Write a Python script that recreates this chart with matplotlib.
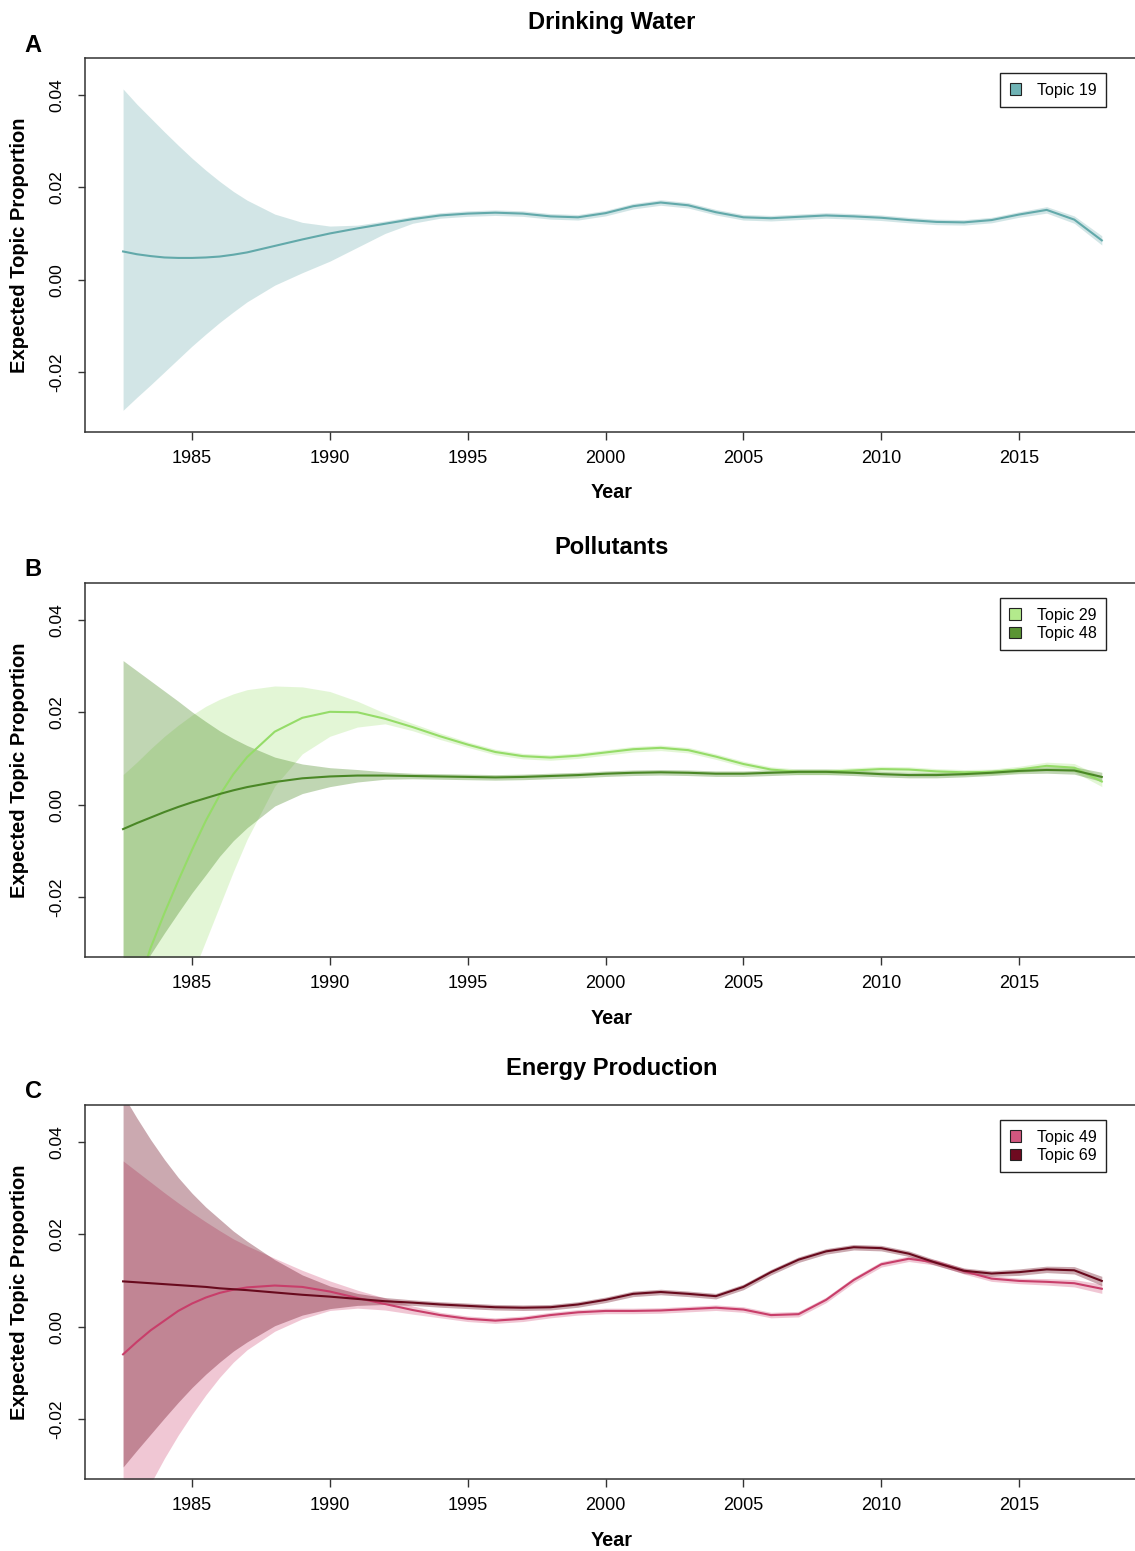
import matplotlib
matplotlib.use("Agg")
import matplotlib.pyplot as plt
from matplotlib.patches import Patch

plt.rcParams['font.family'] = ['Liberation Sans', 'DejaVu Sans']
plt.rcParams['axes.unicode_minus'] = False

# ---- data ----
YEARS = [1982.5, 1983, 1983.5, 1984, 1984.5, 1985, 1985.5, 1986, 1986.5, 1987,
         1988, 1989, 1990, 1991, 1992, 1993, 1994, 1995, 1996, 1997,
         1998, 1999, 2000, 2001, 2002, 2003, 2004, 2005, 2006, 2007,
         2008, 2009, 2010, 2011, 2012, 2013, 2014, 2015, 2016, 2017, 2018]

# Drinking Water - Topic 19
T19_MEAN = [0.0061, 0.0055, 0.0051, 0.0048, 0.0047, 0.0047, 0.0048, 0.0050, 0.0054, 0.0059,
            0.0073, 0.0087, 0.0100, 0.0111, 0.0121, 0.0131, 0.0139, 0.0143, 0.0145, 0.0143,
            0.0137, 0.0135, 0.0144, 0.0159, 0.0167, 0.0161, 0.0146, 0.0135, 0.0133, 0.0136,
            0.0139, 0.0137, 0.0134, 0.0129, 0.0125, 0.0124, 0.0129, 0.0141, 0.0151, 0.0130, 0.0085]
T19_UPPER = [0.0413, 0.0380, 0.0350, 0.0320, 0.0291, 0.0263, 0.0237, 0.0213, 0.0191, 0.0172,
             0.0142, 0.0124, 0.0116, 0.0118, 0.0127, 0.0137, 0.0145, 0.0149, 0.0151, 0.0149,
             0.0143, 0.0141, 0.0150, 0.0165, 0.0173, 0.0167, 0.0152, 0.0141, 0.0139, 0.0142,
             0.0145, 0.0143, 0.0140, 0.0135, 0.0131, 0.0130, 0.0135, 0.0147, 0.0158, 0.0138, 0.0095]
T19_LOWER = [-0.0283, -0.0255, -0.0228, -0.0200, -0.0172, -0.0144, -0.0118, -0.0093, -0.0070, -0.0048,
             -0.0012, 0.0015, 0.0040, 0.0070, 0.0100, 0.0122, 0.0133, 0.0137, 0.0139, 0.0137,
             0.0131, 0.0129, 0.0138, 0.0153, 0.0161, 0.0155, 0.0140, 0.0129, 0.0127, 0.0130,
             0.0133, 0.0131, 0.0128, 0.0123, 0.0119, 0.0118, 0.0123, 0.0135, 0.0144, 0.0122, 0.0075]

# Pollutants - Topic 29
T29_MEAN = [-0.0500, -0.0400, -0.0310, -0.0235, -0.0165, -0.0098, -0.0035, 0.0020, 0.0066, 0.0103,
            0.0158, 0.0188, 0.0201, 0.0200, 0.0186, 0.0168, 0.0148, 0.0130, 0.0114, 0.0105,
            0.0102, 0.0106, 0.0113, 0.0120, 0.0123, 0.0118, 0.0104, 0.0088, 0.0076, 0.0071,
            0.0071, 0.0074, 0.0077, 0.0076, 0.0072, 0.0070, 0.0071, 0.0076, 0.0084, 0.0080, 0.0050]
T29_UPPER = [0.0065, 0.0092, 0.0121, 0.0148, 0.0172, 0.0194, 0.0213, 0.0228, 0.0240, 0.0249,
             0.0257, 0.0255, 0.0245, 0.0224, 0.0198, 0.0176, 0.0155, 0.0136, 0.0120, 0.0111,
             0.0108, 0.0112, 0.0119, 0.0126, 0.0129, 0.0124, 0.0110, 0.0094, 0.0082, 0.0077,
             0.0077, 0.0080, 0.0083, 0.0082, 0.0078, 0.0076, 0.0077, 0.0083, 0.0092, 0.0089, 0.0061]
T29_LOWER = [-0.1070, -0.0900, -0.0740, -0.0620, -0.0500, -0.0370, -0.0295, -0.0220, -0.0145, -0.0075,
             0.0040, 0.0110, 0.0148, 0.0168, 0.0175, 0.0160, 0.0141, 0.0124, 0.0108, 0.0099,
             0.0096, 0.0100, 0.0107, 0.0114, 0.0117, 0.0112, 0.0098, 0.0082, 0.0070, 0.0065,
             0.0065, 0.0068, 0.0071, 0.0070, 0.0066, 0.0064, 0.0065, 0.0069, 0.0076, 0.0071, 0.0039]

# Pollutants - Topic 48
T48_MEAN = [-0.0053, -0.0040, -0.0028, -0.0016, -0.0005, 0.0005, 0.0014, 0.0023, 0.0031, 0.0038,
            0.0049, 0.0057, 0.0061, 0.0063, 0.0063, 0.0062, 0.0061, 0.0060, 0.0059, 0.0060,
            0.0062, 0.0064, 0.0067, 0.0069, 0.0070, 0.0069, 0.0067, 0.0067, 0.0069, 0.0071,
            0.0071, 0.0069, 0.0066, 0.0064, 0.0064, 0.0066, 0.0069, 0.0073, 0.0075, 0.0074, 0.0060]
T48_UPPER = [0.0312, 0.0290, 0.0268, 0.0246, 0.0224, 0.0201, 0.0180, 0.0160, 0.0143, 0.0128,
             0.0103, 0.0088, 0.0080, 0.0076, 0.0071, 0.0068, 0.0067, 0.0066, 0.0065, 0.0066,
             0.0068, 0.0070, 0.0073, 0.0075, 0.0076, 0.0075, 0.0073, 0.0073, 0.0075, 0.0077,
             0.0077, 0.0075, 0.0072, 0.0070, 0.0070, 0.0072, 0.0075, 0.0079, 0.0082, 0.0082, 0.0070]
T48_LOWER = [-0.0418, -0.0370, -0.0324, -0.0278, -0.0234, -0.0191, -0.0152, -0.0112, -0.0078, -0.0050,
             -0.0003, 0.0024, 0.0039, 0.0049, 0.0055, 0.0056, 0.0055, 0.0054, 0.0053, 0.0054,
             0.0056, 0.0058, 0.0061, 0.0063, 0.0064, 0.0063, 0.0061, 0.0061, 0.0063, 0.0065,
             0.0065, 0.0063, 0.0060, 0.0058, 0.0058, 0.0060, 0.0063, 0.0067, 0.0068, 0.0066, 0.0050]

# Energy Production - Topic 49
T49_MEAN = [-0.0060, -0.0033, -0.0008, 0.0013, 0.0034, 0.0050, 0.0063, 0.0073, 0.0080, 0.0085,
            0.0089, 0.0086, 0.0076, 0.0062, 0.0049, 0.0036, 0.0025, 0.0017, 0.0013, 0.0017,
            0.0025, 0.0031, 0.0034, 0.0034, 0.0035, 0.0038, 0.0041, 0.0037, 0.0025, 0.0027,
            0.0058, 0.0101, 0.0135, 0.0147, 0.0139, 0.0120, 0.0104, 0.0099, 0.0097, 0.0094, 0.0082]
T49_UPPER = [0.0359, 0.0336, 0.0313, 0.0290, 0.0268, 0.0247, 0.0227, 0.0208, 0.0190, 0.0175,
             0.0148, 0.0122, 0.0099, 0.0079, 0.0062, 0.0045, 0.0031, 0.0023, 0.0019, 0.0023,
             0.0031, 0.0037, 0.0040, 0.0040, 0.0041, 0.0044, 0.0047, 0.0043, 0.0031, 0.0033,
             0.0064, 0.0107, 0.0141, 0.0153, 0.0145, 0.0126, 0.0110, 0.0105, 0.0104, 0.0102, 0.0092]
T49_LOWER = [-0.0480, -0.0410, -0.0340, -0.0285, -0.0235, -0.0190, -0.0148, -0.0110, -0.0077, -0.0050,
             -0.0010, 0.0017, 0.0035, 0.0040, 0.0036, 0.0027, 0.0019, 0.0011, 0.0007, 0.0011,
             0.0019, 0.0025, 0.0028, 0.0028, 0.0029, 0.0032, 0.0035, 0.0031, 0.0019, 0.0021,
             0.0052, 0.0095, 0.0129, 0.0141, 0.0133, 0.0114, 0.0098, 0.0093, 0.0090, 0.0086, 0.0072]

# Energy Production - Topic 69
T69_MEAN = [0.0098, 0.0096, 0.0094, 0.0092, 0.0090, 0.0088, 0.0086, 0.0083, 0.0081, 0.0079,
            0.0074, 0.0069, 0.0065, 0.0060, 0.0055, 0.0052, 0.0048, 0.0045, 0.0042, 0.0041,
            0.0042, 0.0048, 0.0058, 0.0071, 0.0075, 0.0071, 0.0066, 0.0086, 0.0118, 0.0145,
            0.0163, 0.0172, 0.0170, 0.0158, 0.0138, 0.0121, 0.0115, 0.0118, 0.0124, 0.0122, 0.0099]
T69_UPPER = [0.0502, 0.0452, 0.0405, 0.0362, 0.0323, 0.0289, 0.0259, 0.0233, 0.0207, 0.0185,
             0.0145, 0.0112, 0.0088, 0.0072, 0.0063, 0.0058, 0.0054, 0.0051, 0.0048, 0.0047,
             0.0048, 0.0054, 0.0064, 0.0077, 0.0081, 0.0077, 0.0072, 0.0092, 0.0124, 0.0151,
             0.0169, 0.0178, 0.0176, 0.0164, 0.0144, 0.0127, 0.0121, 0.0125, 0.0131, 0.0130, 0.0109]
T69_LOWER = [-0.0304, -0.0268, -0.0233, -0.0198, -0.0164, -0.0132, -0.0103, -0.0077, -0.0053, -0.0033,
             0.0002, 0.0025, 0.0039, 0.0046, 0.0048, 0.0046, 0.0042, 0.0039, 0.0036, 0.0035,
             0.0036, 0.0042, 0.0052, 0.0065, 0.0069, 0.0065, 0.0060, 0.0080, 0.0112, 0.0139,
             0.0157, 0.0166, 0.0164, 0.0152, 0.0132, 0.0115, 0.0109, 0.0111, 0.0117, 0.0114, 0.0089]

X_TICKS = [1985, 1990, 1995, 2000, 2005, 2010, 2015]
Y_TICKS = [-0.02, 0.00, 0.02, 0.04]
Y_TICK_LABELS = ['-0.02', '0.00', '0.02', '0.04']

PANELS = [
    # title, letter, pixel top of the box, [(label, mean, lower, upper, line colour, band colour, band alpha, legend colour)]
    ('Drinking Water', 'A', 58,
     [('Topic 19', T19_MEAN, T19_LOWER, T19_UPPER, '#62a9aa', '#5fa5a6', 0.28, '#6fb3b5')]),
    ('Pollutants', 'B', 583,
     [('Topic 29', T29_MEAN, T29_LOWER, T29_UPPER, '#95dc68', '#9be06b', 0.27, '#b3ea8c'),
      ('Topic 48', T48_MEAN, T48_LOWER, T48_UPPER, '#4a8726', '#4c8a26', 0.35, '#5a9433')]),
    ('Energy Production', 'C', 1105,
     [('Topic 49', T49_MEAN, T49_LOWER, T49_UPPER, '#c83e6a', '#d4557f', 0.33, '#d2577f'),
      ('Topic 69', T69_MEAN, T69_LOWER, T69_UPPER, '#680a1d', '#6a0b1e', 0.35, '#6e0a20')]),
]

# ---- layout in pixels ----
W, H = 1135, 1551
BOX_H = 374
LEFT, RIGHT = 85, 1141          # right edge of the box falls just outside the image
PX_PER_YEAR = 27.57
XLIM = (1985 - (192 - LEFT) / PX_PER_YEAR, 1985 + (RIGHT - 192) / PX_PER_YEAR)
YLIM = (-0.033, 0.048)

fig = plt.figure(figsize=(W / 100, H / 100), dpi=100)
AX_COL = '#333333'

for title, letter, top, series in PANELS:
    bottom = top + BOX_H
    ax = fig.add_axes([LEFT / W, 1 - bottom / H, (RIGHT - LEFT) / W, BOX_H / H])

    for label, mean, lo, hi, line_c, band_c, band_a, leg_c in series:
        ax.fill_between(YEARS, lo, hi, color=band_c, alpha=band_a, lw=0)
        ax.plot(YEARS, mean, color=line_c, lw=1.5, solid_joinstyle='round')

    ax.set_xlim(*XLIM)
    ax.set_ylim(*YLIM)
    ax.set_xticks(X_TICKS)
    ax.set_xticklabels([str(t) for t in X_TICKS])
    ax.set_yticks(Y_TICKS)
    ax.set_yticklabels(Y_TICK_LABELS, rotation=90, va='center')
    ax.tick_params(axis='x', length=6, width=1, color=AX_COL, pad=7, labelsize=13)
    ax.tick_params(axis='y', length=5, width=1, color=AX_COL, pad=10, labelsize=12.5)
    for s in ax.spines.values():
        s.set_color(AX_COL)
        s.set_linewidth(1.1)

    handles = [Patch(facecolor=s[7], edgecolor='#222222', lw=0.8) for s in series]
    leg = ax.legend(handles, [s[0] for s in series], loc='upper right',
                    bbox_to_anchor=((1106 - LEFT) / (RIGHT - LEFT), 1 - 15 / BOX_H),
                    borderaxespad=0, fontsize=11.5, fancybox=False, framealpha=1,
                    edgecolor='#222222', handlelength=0.7, handleheight=0.7,
                    handletextpad=1.0, labelspacing=0.2, borderpad=0.6)
    leg.get_frame().set_linewidth(1.0)

    mid = top + BOX_H / 2
    fig.text(612 / W, 1 - (top - 36) / H, title, ha='center', va='center',
             fontsize=17, fontweight='bold')
    fig.text(33 / W, 1 - (top - 13) / H, letter, ha='center', va='center',
             fontsize=17, fontweight='bold')
    fig.text(20 / W, 1 - mid / H, 'Expected Topic Proportion', rotation=90,
             ha='center', va='center', fontsize=14.5, fontweight='bold')
    fig.text(612 / W, 1 - (bottom + 61) / H, 'Year', ha='center', va='center',
             fontsize=14.3, fontweight='bold')

fig.savefig('out.png', dpi=100)
